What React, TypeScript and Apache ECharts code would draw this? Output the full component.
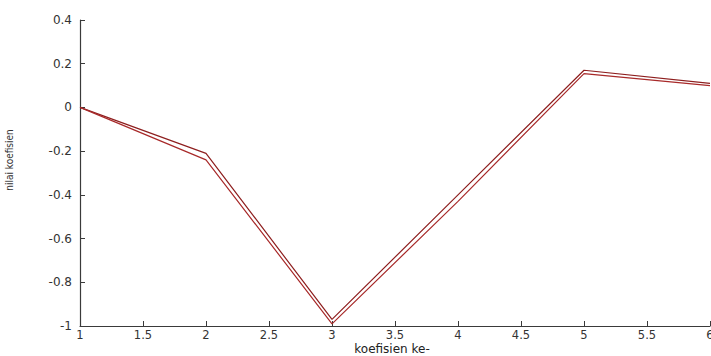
import React, { useEffect, useRef } from "react";
import * as echarts from "echarts";

const xValues = [1, 2, 3, 4, 5, 6];
const seriesA = [0, -0.21, -0.97, -0.4, 0.17, 0.11];
const seriesB = [0, -0.24, -0.99, -0.43, 0.155, 0.1];
const xName = "koefisien ke-";
const yName = "nilai koefisien";

export default function App() {
  const ref = useRef<HTMLDivElement>(null);
  useEffect(() => {
    document.body.style.margin = "0";
    const chart = echarts.init(ref.current!, null, { renderer: "svg" });
    const axisColor = "#3a3a3a";
    const labelStyle = {
      color: "#333",
      fontFamily: "DejaVu Sans, Liberation Sans, sans-serif",
      fontSize: 12,
    };
    chart.setOption({
      animation: false,
      backgroundColor: "#ffffff",
      grid: {
        left: 80,
        right: 1,
        top: 20,
        bottom: 30,
        containLabel: false,
        outerBoundsMode: "none",
      },
      xAxis: {
        type: "value",
        min: 1,
        max: 6,
        interval: 0.5,
        name: xName,
        nameLocation: "middle",
        nameGap: 17,
        nameMoveOverlap: false,
        nameTextStyle: {
          ...labelStyle,
          fontSize: 12,
          lineHeight: 12,
          color: "#222",
          padding: [0, 6, 0, 0],
        },
        axisLine: { show: true, onZero: false, lineStyle: { color: axisColor, width: 1.2 } },
        axisTick: { show: true, inside: true, length: 5, lineStyle: { color: axisColor } },
        axisLabel: { ...labelStyle, fontSize: 11.5, lineHeight: 11, margin: 3, showMaxLabel: true },
        splitLine: { show: false },
      },
      yAxis: {
        type: "value",
        min: -1,
        max: 0.4,
        interval: 0.2,
        axisLine: { show: true, onZero: false, lineStyle: { color: axisColor, width: 1.2 } },
        axisTick: { show: true, inside: true, length: 5, lineStyle: { color: axisColor } },
        axisLabel: { ...labelStyle, margin: 8 },
        splitLine: { show: false },
      },
      graphic: [
        {
          type: "text",
          x: 9,
          y: 160,
          rotation: Math.PI / 2,
          style: {
            text: yName,
            align: "center",
            verticalAlign: "middle",
            fontSize: 10,
            fontFamily: "Liberation Sans Narrow, DejaVu Sans Condensed, Liberation Sans, sans-serif",
            fill: "#333",
          },
        },
      ],
      series: [
        {
          type: "line",
          data: xValues.map((x, i) => [x, seriesA[i]]),
          showSymbol: false,
          symbol: "none",
          lineStyle: { color: "#8e1f1f", width: 1.2 },
        },
        {
          type: "line",
          data: xValues.map((x, i) => [x, seriesB[i]]),
          showSymbol: false,
          symbol: "none",
          lineStyle: { color: "#a82a2a", width: 1.2 },
        },
      ],
    });
    return () => chart.dispose();
  }, []);
  return (
    <div
      ref={ref}
      style={{ position: "fixed", left: 0, top: 0, width: 711, height: 356, background: "#fff" }}
    />
  );
}
